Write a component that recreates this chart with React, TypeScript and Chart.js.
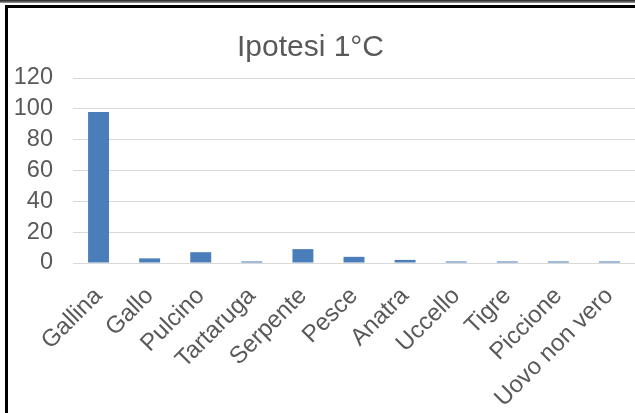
import React, { useEffect, useRef } from "react";
import { Chart, registerables } from "chart.js";

Chart.register(...registerables);

const categories = [
  "Gallina",
  "Gallo",
  "Pulcino",
  "Tartaruga",
  "Serpente",
  "Pesce",
  "Anatra",
  "Uccello",
  "Tigre",
  "Piccione",
  "Uovo non vero",
];
const values = [98, 3, 7, 1, 9, 4, 2, 1, 1, 1, 1];
const yMin = 0;
const yMax = 120;
const yStep = 20;
const titleText = "Ipotesi 1°C";

const FONT = "'Liberation Sans', Arial, sans-serif";
const TEXT = "#595959";

const titleShift = {
  id: "titleShift",
  afterLayout(chart: any) {
    const t = chart.titleBlock;
    if (t) {
      t.left -= 11;
      t.right -= 11;
    }
  },
};

export default function App() {
  const ref = useRef<HTMLCanvasElement | null>(null);

  useEffect(() => {
    if (!ref.current) return;
    const chart = new Chart(ref.current, {
      type: "bar",
      data: {
        labels: categories,
        datasets: [
          {
            data: values,
            backgroundColor: "#4a7ebb",
            borderWidth: 0,
            barPercentage: 0.41,
            categoryPercentage: 1,
          },
        ],
      },
      plugins: [titleShift],
      options: {
        animation: false,
        responsive: false,
        maintainAspectRatio: false,
        layout: { padding: { left: 8, right: 0, top: 0, bottom: 0 } },
        plugins: {
          legend: { display: false },
          tooltip: { enabled: false },
          title: {
            display: true,
            text: titleText,
            color: TEXT,
            font: { family: FONT, size: 30, weight: "normal" },
            padding: { top: 30, bottom: 12 },
          },
        },
        scales: {
          x: {
            grid: { display: false, drawTicks: false },
            border: { display: false },
            ticks: {
              color: TEXT,
              font: { family: FONT, size: 24 },
              minRotation: 45,
              maxRotation: 45,
              padding: 19,
              autoSkip: false,
            },
            afterFit: (s: any) => {
              s.height = 150;
              s.paddingLeft = 0;
              s.paddingRight = 0;
            },
          },
          y: {
            min: yMin,
            max: yMax,
            grid: { color: "#d9d9d9", lineWidth: 1, drawTicks: false },
            border: { display: false },
            ticks: {
              stepSize: yStep,
              color: TEXT,
              font: { family: FONT, size: 23.5 },
              padding: 20,
              autoSkip: false,
            },
            afterFit: (s: any) => {
              s.width = 65;
            },
          },
        },
      },
    });
    return () => chart.destroy();
  }, []);

  return (
    <div
      style={{
        position: "fixed",
        left: 0,
        top: 0,
        width: 635,
        height: 413,
        background: "#fff",
        overflow: "hidden",
      }}
    >
      <canvas
        ref={ref}
        width={635}
        height={413}
        style={{ position: "absolute", left: 0, top: 0, width: 635, height: 413 }}
      />
      <div
        style={{
          position: "absolute",
          left: 0,
          top: 0,
          width: 635,
          height: 3,
          background: "linear-gradient(#222, #999)",
        }}
      />
      <div
        style={{
          position: "absolute",
          left: 5,
          top: 5,
          width: 630,
          height: 3,
          background: "#000",
        }}
      />
      <div
        style={{
          position: "absolute",
          left: 5,
          top: 5,
          width: 3,
          height: 408,
          background: "#000",
        }}
      />
    </div>
  );
}
